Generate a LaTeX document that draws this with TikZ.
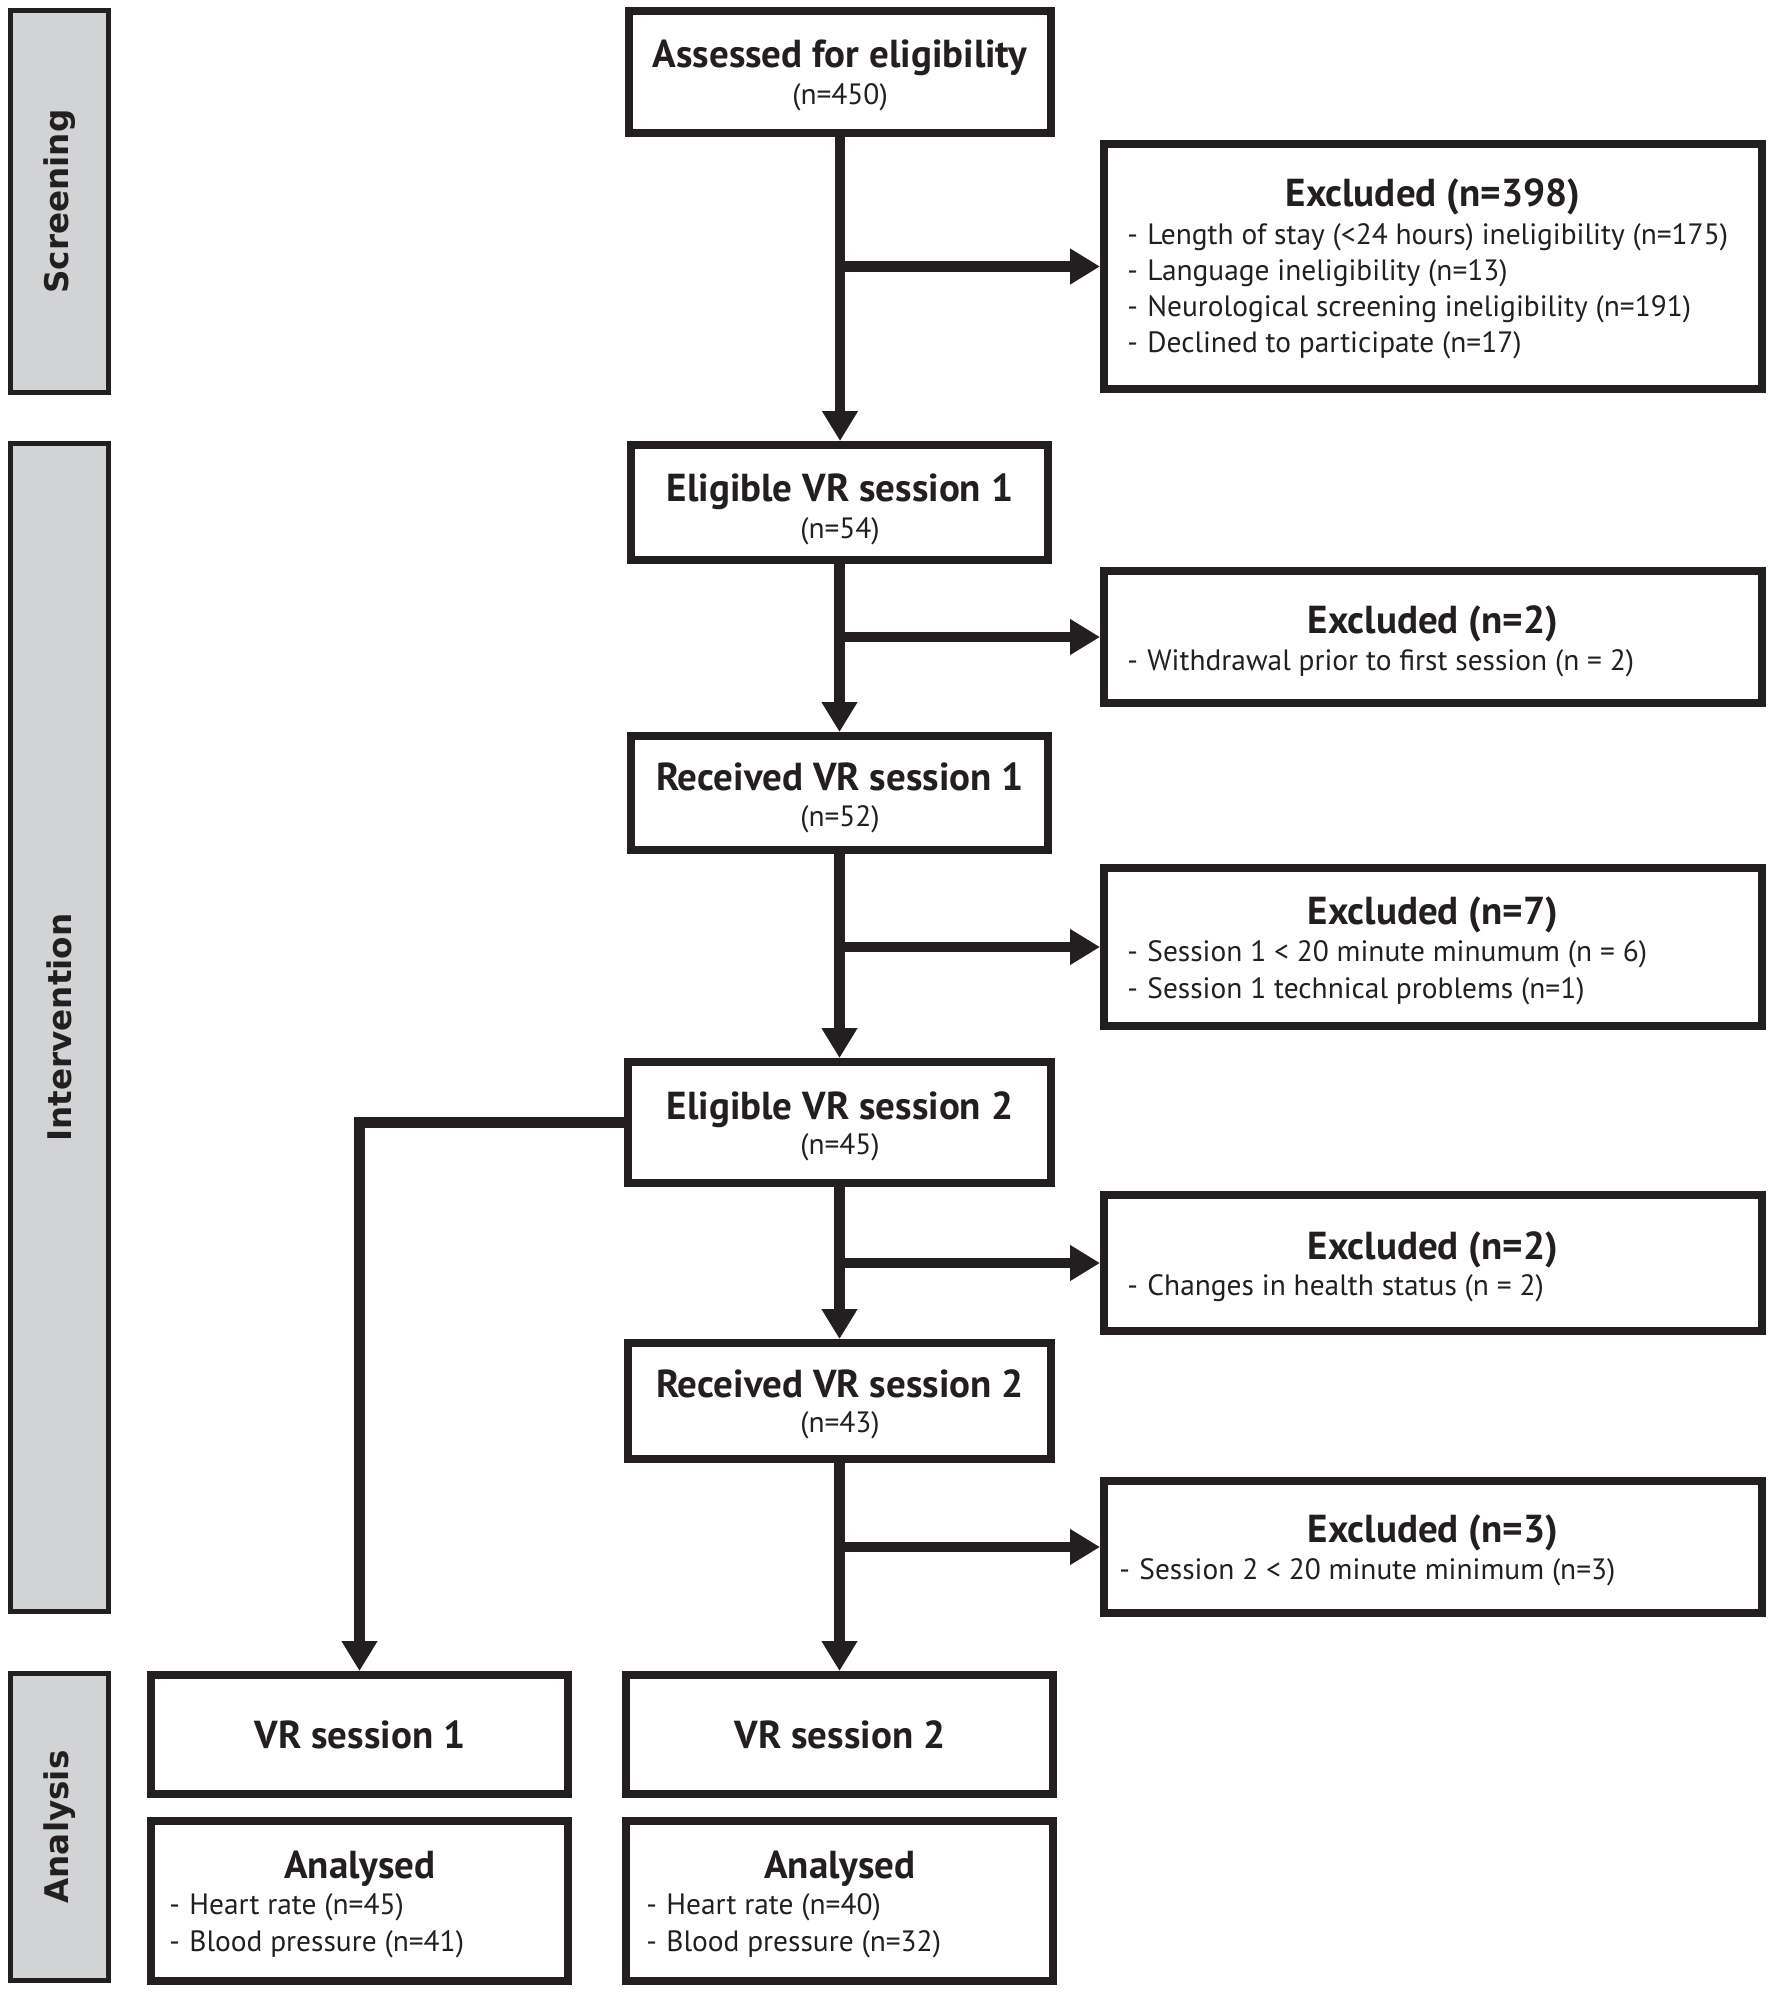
\documentclass[tikz,border=0pt]{standalone}
\usepackage{fontspec}
\setmainfont{PT Sans}
\newfontfamily\sidefont{DejaVu Sans}
\usetikzlibrary{arrows.meta}
\definecolor{ink}{HTML}{231F20}
\definecolor{bargray}{HTML}{D1D3D4}
\newcommand\dashitem{\makebox[10pt][l]{-}}
% #1 style, #2 name, #3 x1, #4 y1, #5 x2, #6 y2 (outer edges, pixel units)
\newcommand\flowbox[6]{%
  \node[#1, minimum width={(#5-#3)*0.5pt-\pgfkeysvalueof{/tikz/bw}},
        minimum height={(#6-#4)*0.5pt-\pgfkeysvalueof{/tikz/bw}}]
        (#2) at ({(#3+#5)/2},{(#4+#6)/2}) {};}
\begin{document}
\begin{tikzpicture}[x=0.5pt,y=-0.5pt,
  bw/.initial=4pt,
  box/.style={draw=ink, line width=4pt, fill=white, inner sep=0pt, bw=4pt},
  bar/.style={draw=ink, line width=2.5pt, fill=bargray, inner sep=0pt, bw=2.5pt},
  ttl/.style={font=\bfseries\fontsize{19.5pt}{23pt}\selectfont, text=ink, inner sep=0pt, anchor=base},
  sub/.style={font=\fontsize{14.7pt}{18pt}\selectfont, text=ink, inner sep=0pt, anchor=base},
  item/.style={sub, anchor=base west},
  side/.style={font=\sidefont\bfseries\fontsize{16.3pt}{18pt}\selectfont, text=ink, rotate=90, inner sep=0pt},
  arr/.style={draw=ink, line width=5.25pt, line join=miter, -{Triangle[length=15pt,width=17pt]}}]
\useasboundingbox (0,0) rectangle (1772,1993);

% phase bars
\flowbox{bar}{barS}{8}{8}{111}{395}
\flowbox{bar}{barI}{8}{441}{111}{1614}
\flowbox{bar}{barA}{8}{1671}{111}{1983}
\node[side] (labS) at (barS.center) {Screening};
\node[side] (labI) at (barI.center) {Intervention};
\node[side] (labA) at (barA.center) {Analysis};

% main column
\flowbox{box}{asm}{625}{7}{1055}{137}
\flowbox{box}{e1}{627}{441}{1052}{564}
\flowbox{box}{r1}{627}{732}{1052}{854}
\flowbox{box}{e2}{624}{1058}{1055}{1187}
\flowbox{box}{r2}{624}{1339}{1055}{1463}
\flowbox{box}{vs2}{622}{1671}{1057}{1798}
\flowbox{box}{an2}{622}{1817}{1057}{1985}
\flowbox{box}{vs1}{147}{1671}{572}{1798}
\flowbox{box}{an1}{147}{1817}{572}{1985}
% exclusion column
\flowbox{box}{x1}{1100}{140}{1766}{393}
\flowbox{box}{x2}{1100}{567}{1766}{707}
\flowbox{box}{x3}{1100}{864}{1766}{1030}
\flowbox{box}{x4}{1100}{1191}{1766}{1335}
\flowbox{box}{x5}{1100}{1477}{1766}{1617}

% texts: main column
\node[ttl] (tasm) at (840,67) {Assessed for eligibility};
\node[sub] (sasm) at (840,104) {(n=450)};
\node[ttl] (te1) at (840,501) {Eligible VR session 1};
\node[sub] (se1) at (840,538) {(n=54)};
\node[ttl] (tr1) at (840,790) {Received VR session 1};
\node[sub] (sr1) at (840,826) {(n=52)};
\node[ttl] (te2) at (840,1119) {Eligible VR session 2};
\node[sub] (se2) at (840,1154) {(n=45)};
\node[ttl] (tr2) at (840,1397) {Received VR session 2};
\node[sub] (sr2) at (840,1432) {(n=43)};
\node[ttl] (tvs2) at (840,1748) {VR session 2};
\node[ttl] (tvs1) at (360,1748) {VR session 1};
\node[ttl] (tan1) at (360,1878) {Analysed};
\node[item] (an1a) at (169,1914) {\dashitem Heart rate (n=45)};
\node[item] (an1b) at (169,1951) {\dashitem Blood pressure (n=41)};
\node[ttl] (tan2) at (840,1878) {Analysed};
\node[item] (an2a) at (646,1914) {\dashitem Heart rate (n=40)};
\node[item] (an2b) at (646,1951) {\dashitem Blood pressure (n=32)};

% texts: exclusions
\node[ttl] (tx1) at (1433,206) {Excluded (n=398)};
\node[item] (x1a) at (1127,244) {\dashitem Length of stay (<24 hours) ineligibility (n=175)};
\node[item] (x1b) at (1127,280) {\dashitem Language ineligibility (n=13)};
\node[item] (x1c) at (1127,316) {\dashitem Neurological screening ineligibility (n=191)};
\node[item] (x1d) at (1127,352) {\dashitem Declined to participate (n=17)};
\node[ttl] (tx2) at (1433,633) {Excluded (n=2)};
\node[item] (x2a) at (1127,670) {\dashitem Withdrawal prior to first session (n = 2)};
\node[ttl] (tx3) at (1433,924) {Excluded (n=7)};
\node[item] (x3a) at (1127,961) {\dashitem Session 1 < 20 minute minumum (n = 6)};
\node[item] (x3b) at (1127,998) {\dashitem Session 1 technical problems (n=1)};
\node[ttl] (tx4) at (1433,1259) {Excluded (n=2)};
\node[item] (x4a) at (1127,1295) {\dashitem Changes in health status (n = 2)};
\node[ttl] (tx5) at (1433,1542) {Excluded (n=3)};
\node[item] (x5a) at (1119,1579) {\dashitem Session 2 < 20 minute minimum (n=3)};

% connectors: trunk
\draw[arr] (asm.south) -- (asm.south |- e1.north);
\draw[arr] (e1.south) -- (e1.south |- r1.north);
\draw[arr] (r1.south) -- (r1.south |- e2.north);
\draw[arr] (e2.south) -- (e2.south |- r2.north);
\draw[arr] (r2.south) -- (r2.south |- vs2.north);
% connectors: exclusions
\draw[arr] (asm.south |- x1.west) -- (x1.west);
\draw[arr] (e1.south |- x2.west) -- (x2.west);
\draw[arr] (r1.south |- x3.west) -- (x3.west);
\draw[arr] (e2.south |- x4.west) -- (x4.west);
\draw[arr] (r2.south |- x5.west) -- (x5.west);
% connector to session 1 analysis
\draw[arr] (e2.west) -| (vs1.north);
\end{tikzpicture}
\end{document}
